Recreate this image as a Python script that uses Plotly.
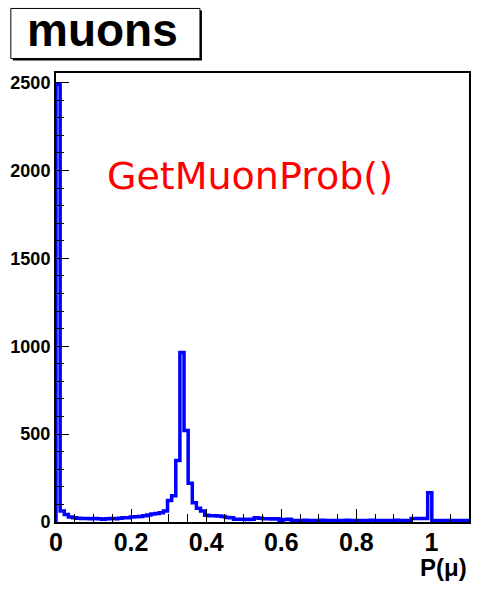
import numpy as np
import plotly.graph_objects as go

# Histogram of the muon probability: 100 bins on [0, 1.1]
x_min, x_max = 0.0, 1.1
n_bins = 100
counts = [
    2490, 62, 42, 28, 24, 22, 20, 20, 18, 20,
    18, 16, 18, 20, 18, 22, 24, 24, 28, 30,
    32, 36, 40, 45, 48, 52, 62, 122, 150, 350,
    965, 520, 220, 110, 78, 62, 38, 36, 35, 34,
    32, 26, 24, 16, 15, 16, 14, 16, 24, 22,
    18, 18, 17, 18, 10, 14, 15, 9, 8, 9,
    10, 8, 9, 8, 10, 9, 8, 9, 8, 9,
    10, 8, 9, 8, 9, 8, 10, 9, 8, 9,
    8, 9, 10, 8, 9, 9, 20, 20, 20, 20,
    167, 9, 8, 9, 8, 9, 8, 9, 8, 9,
]
y_ticks = [0, 500, 1000, 1500, 2000, 2500]
x_ticks = [0, 0.2, 0.4, 0.6, 0.8, 1]
x_tick_text = ["0", "0.2", "0.4", "0.6", "0.8", "1"]

edges = np.linspace(x_min, x_max, n_bins + 1)
# outline: up from the baseline, across every bin, back down at the end
xs = [edges[0]] + list(edges[:-1]) + [edges[-1], edges[-1]]
ys = [0] + list(counts) + [counts[-1], 0]

W, H = 481, 591
L, R, T, B = 55, 10, 73, 69.3
pw, ph = W - L - R, H - T - B


def px(x):
    return (x - L) / pw


def py(y):
    return (H - B - y) / ph


fig = go.Figure()
fig.add_trace(go.Scatter(
    x=xs, y=ys, mode="lines", line_shape="hv",
    line=dict(color="#0000ff", width=3.5), hoverinfo="skip", showlegend=False,
))

font = "Liberation Sans, Arial, Helvetica, sans-serif"
axis_common = dict(
    showgrid=False, zeroline=False, showline=True, mirror=True,
    linecolor="black", linewidth=2, ticks="inside", tickcolor="black",
    tickwidth=1, ticklen=13,
)
fig.update_layout(
    width=W, height=H,
    margin=dict(l=L, r=R, t=T, b=B),
    paper_bgcolor="white", plot_bgcolor="white",
    xaxis=dict(range=[x_min, x_max], tickvals=x_ticks, ticktext=x_tick_text,
               tickfont=dict(family=font, size=25, color="black", weight="bold"),
               ticklabelstandoff=-3,
               minor=dict(dtick=0.05, ticks="inside", ticklen=8, tickcolor="black"),
               **axis_common),
    yaxis=dict(range=[0, 2555], tickvals=y_ticks,
               tickfont=dict(family=font, size=18, color="black", weight="bold"),
               minor=dict(dtick=100, ticks="inside", ticklen=8, tickcolor="black"),
               **axis_common),
    shapes=[
        # title box with drop shadow
        dict(type="rect", xref="paper", yref="paper",
             x0=px(11.5), x1=px(202), y0=py(10.5), y1=py(60.5),
             fillcolor="black", line=dict(width=0), layer="above"),
        dict(type="rect", xref="paper", yref="paper",
             x0=px(9.5), x1=px(200), y0=py(8.5), y1=py(58.5),
             fillcolor="white", line=dict(color="black", width=1), layer="above"),
    ],
    annotations=[
        dict(text="<b>muons</b>", xref="paper", yref="paper",
             x=px(102), y=py(30.5), xanchor="center", yanchor="middle",
             showarrow=False, font=dict(family=font, size=46, color="black")),
        dict(text="GetMuonProb()", xref="paper", yref="paper",
             x=px(250), y=py(176), xanchor="center", yanchor="middle",
             showarrow=False,
             font=dict(family="Comic Sans MS, DejaVu Sans, sans-serif", size=38, color="#ff0000")),
        dict(text="<b>P(μ)</b>", xref="paper", yref="paper",
             x=px(471), y=py(567), xanchor="right", yanchor="middle",
             showarrow=False, font=dict(family=font, size=24, color="black")),
    ],
)

fig.write_html("out.html")
